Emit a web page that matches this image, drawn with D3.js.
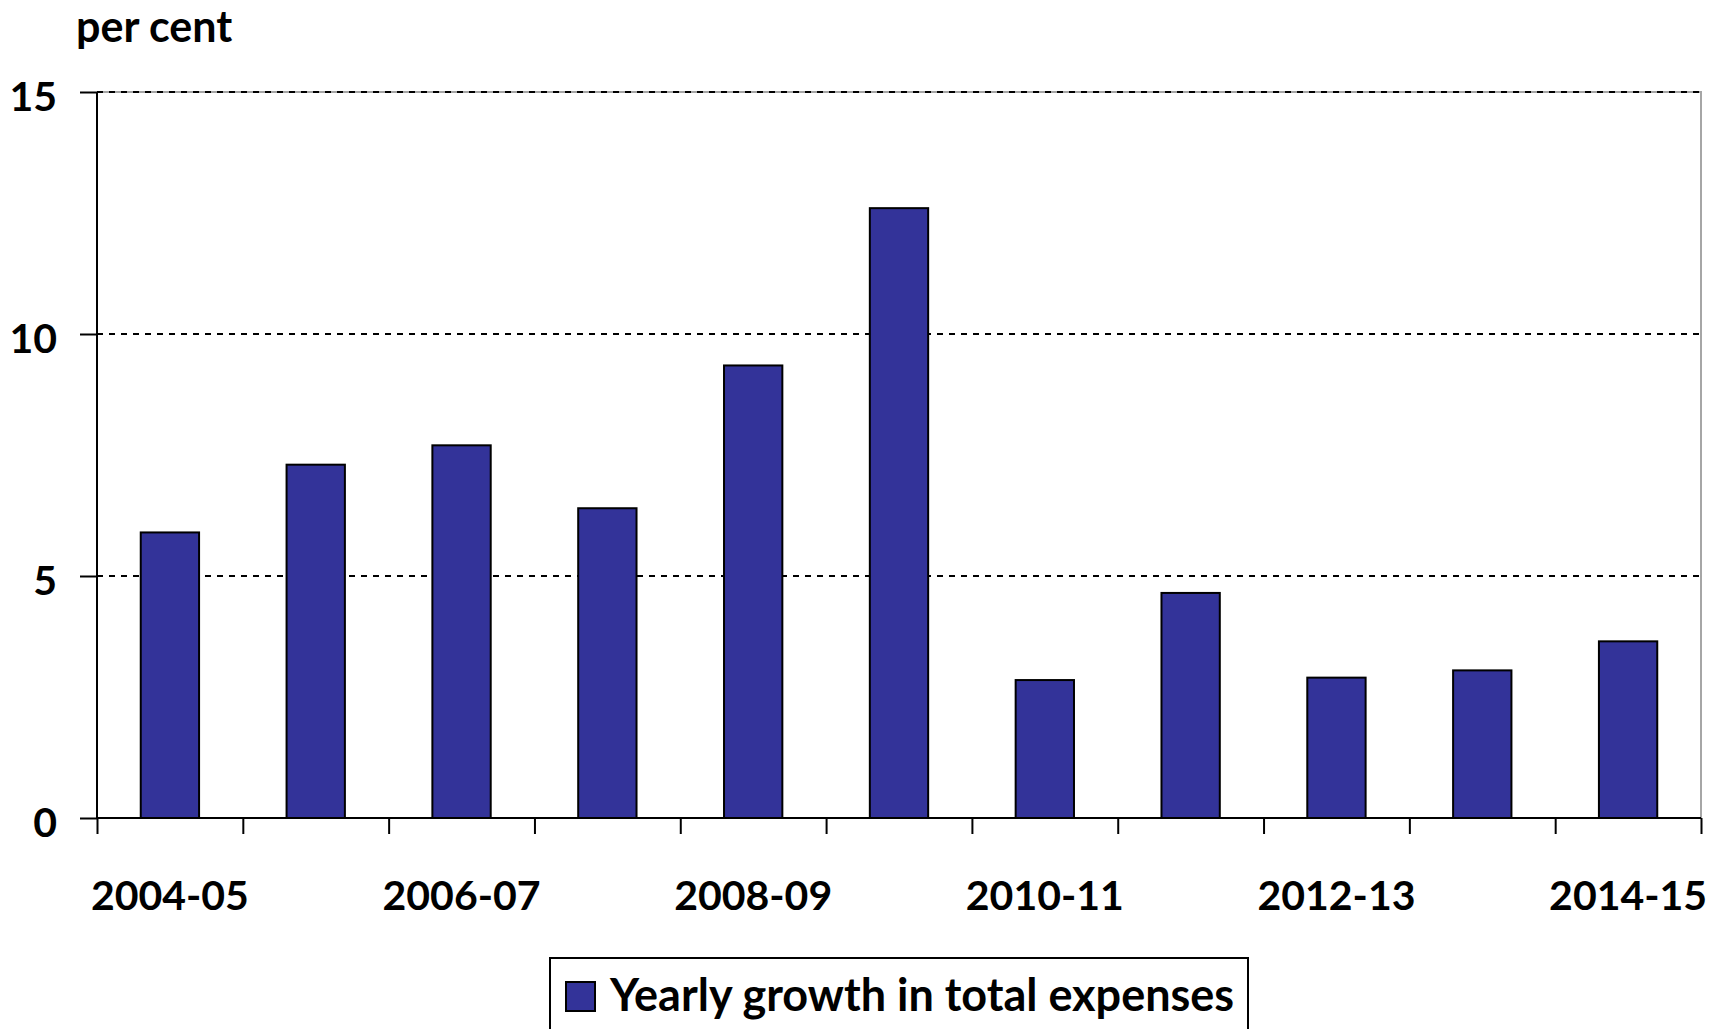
<!DOCTYPE html>
<html>
<head>
<meta charset="utf-8">
<script src="https://cdn.jsdelivr.net/npm/d3@7"></script>
<style>
  html, body { margin: 0; padding: 0; background: #fff; }
  svg { display: block; font-family: Lato, "Open Sans", sans-serif; font-weight: bold; }
</style>
</head>
<body>
<svg id="chart" width="1724" height="1029"></svg>
<script>
// Financial years on the category axis
const years = ["2004-05", "2005-06", "2006-07", "2007-08", "2008-09", "2009-10",
               "2010-11", "2011-12", "2012-13", "2013-14", "2014-15"];
// Yearly growth in total expenses, per cent
const growth = [5.9, 7.3, 7.7, 6.4, 9.35, 12.6, 2.85, 4.65, 2.9, 3.05, 3.65];
// Value axis ticks
const yTicks = [0, 5, 10, 15];
// Only every second year is labelled
const xLabels = ["2004-05", "2006-07", "2008-09", "2010-11", "2012-13", "2014-15"];
const unitLabel = "per cent";
const seriesName = "Yearly growth in total expenses";

const W = 1724, H = 1029;
const m = { top: 92, right: 23, bottom: 211, left: 97 };
const plotL = m.left, plotR = W - m.right, plotT = m.top, plotB = H - m.bottom;

const svg = d3.select("#chart");

const x = d3.scaleBand().domain(years).range([plotL, plotR])
  .paddingInner(0.6).paddingOuter(0.3);
const xEdges = d3.scaleLinear().domain([0, years.length]).range([plotL, plotR]);
const y = d3.scaleLinear().domain([0, 15]).range([plotB, plotT]);

// Plot area frame (top and right edges)
svg.append("path")
  .attr("d", `M${plotL},${plotT}H${plotR}V${plotB}`)
  .attr("fill", "none").attr("stroke", "#a6a6a6").attr("stroke-width", 2);

// Dashed horizontal gridlines
svg.append("g").selectAll("line")
  .data(yTicks.filter(d => d > 0))
  .join("line")
  .attr("x1", plotL).attr("x2", plotR)
  .attr("y1", d => y(d)).attr("y2", d => y(d))
  .attr("stroke", "#000").attr("stroke-width", 2)
  .attr("stroke-dasharray", "6,6");

// Bars
svg.append("g").selectAll("rect")
  .data(years.map((yr, i) => ({ yr, v: growth[i] })))
  .join("rect")
  .attr("x", d => x(d.yr))
  .attr("y", d => y(d.v))
  .attr("width", x.bandwidth())
  .attr("height", d => y(0) - y(d.v))
  .attr("fill", "#333399")
  .attr("stroke", "#000").attr("stroke-width", 2);

// Y axis
const yAxis = svg.append("g")
  .attr("transform", `translate(${plotL},0)`)
  .call(d3.axisLeft(y).tickValues(yTicks).tickSize(17).tickPadding(23).tickFormat(d3.format("d")));
yAxis.select(".domain").attr("stroke", "#000").attr("stroke-width", 2)
  .attr("d", `M0,${plotT}V${plotB}`);
yAxis.selectAll(".tick line").attr("stroke", "#000").attr("stroke-width", 2);
yAxis.selectAll(".tick text")
  .attr("font-size", 41).attr("font-weight", "bold").attr("font-family", "Lato, sans-serif")
  .attr("fill", "#000").attr("dy", "0.45em");

// X axis line with ticks at category boundaries
const xAxisTicks = svg.append("g")
  .attr("transform", `translate(0,${plotB})`)
  .call(d3.axisBottom(xEdges).tickValues(d3.range(years.length + 1)).tickSize(16).tickFormat(""));
xAxisTicks.select(".domain").attr("stroke", "#000").attr("stroke-width", 2)
  .attr("d", `M${plotL},0H${plotR}`);
xAxisTicks.selectAll(".tick line").attr("stroke", "#000").attr("stroke-width", 2);

// X category labels
const xAxisLabels = svg.append("g")
  .attr("transform", `translate(0,${plotB})`)
  .call(d3.axisBottom(x).tickSize(0).tickPadding(0)
    .tickFormat(d => xLabels.includes(d) ? d : ""));
xAxisLabels.select(".domain").remove();
xAxisLabels.selectAll(".tick text")
  .attr("font-size", 41).attr("font-weight", "bold").attr("font-family", "Lato, sans-serif")
  .attr("fill", "#000").attr("y", 92).attr("dy", 0);

// Unit label
svg.append("text")
  .attr("x", 76).attr("y", 42)
  .attr("font-size", 43)
  .attr("fill", "#000")
  .text(unitLabel);

// Legend
const lg = svg.append("g");
lg.append("rect")
  .attr("x", 550).attr("y", 958).attr("width", 698).attr("height", 90)
  .attr("fill", "#fff").attr("stroke", "#000").attr("stroke-width", 2);
lg.append("rect")
  .attr("x", 566).attr("y", 982).attr("width", 29).attr("height", 29)
  .attr("fill", "#333399").attr("stroke", "#000").attr("stroke-width", 2);
lg.append("text")
  .attr("x", 610).attr("y", 1011)
  .attr("font-size", 45)
  .attr("fill", "#000")
  .text(seriesName);
</script>
</body>
</html>
